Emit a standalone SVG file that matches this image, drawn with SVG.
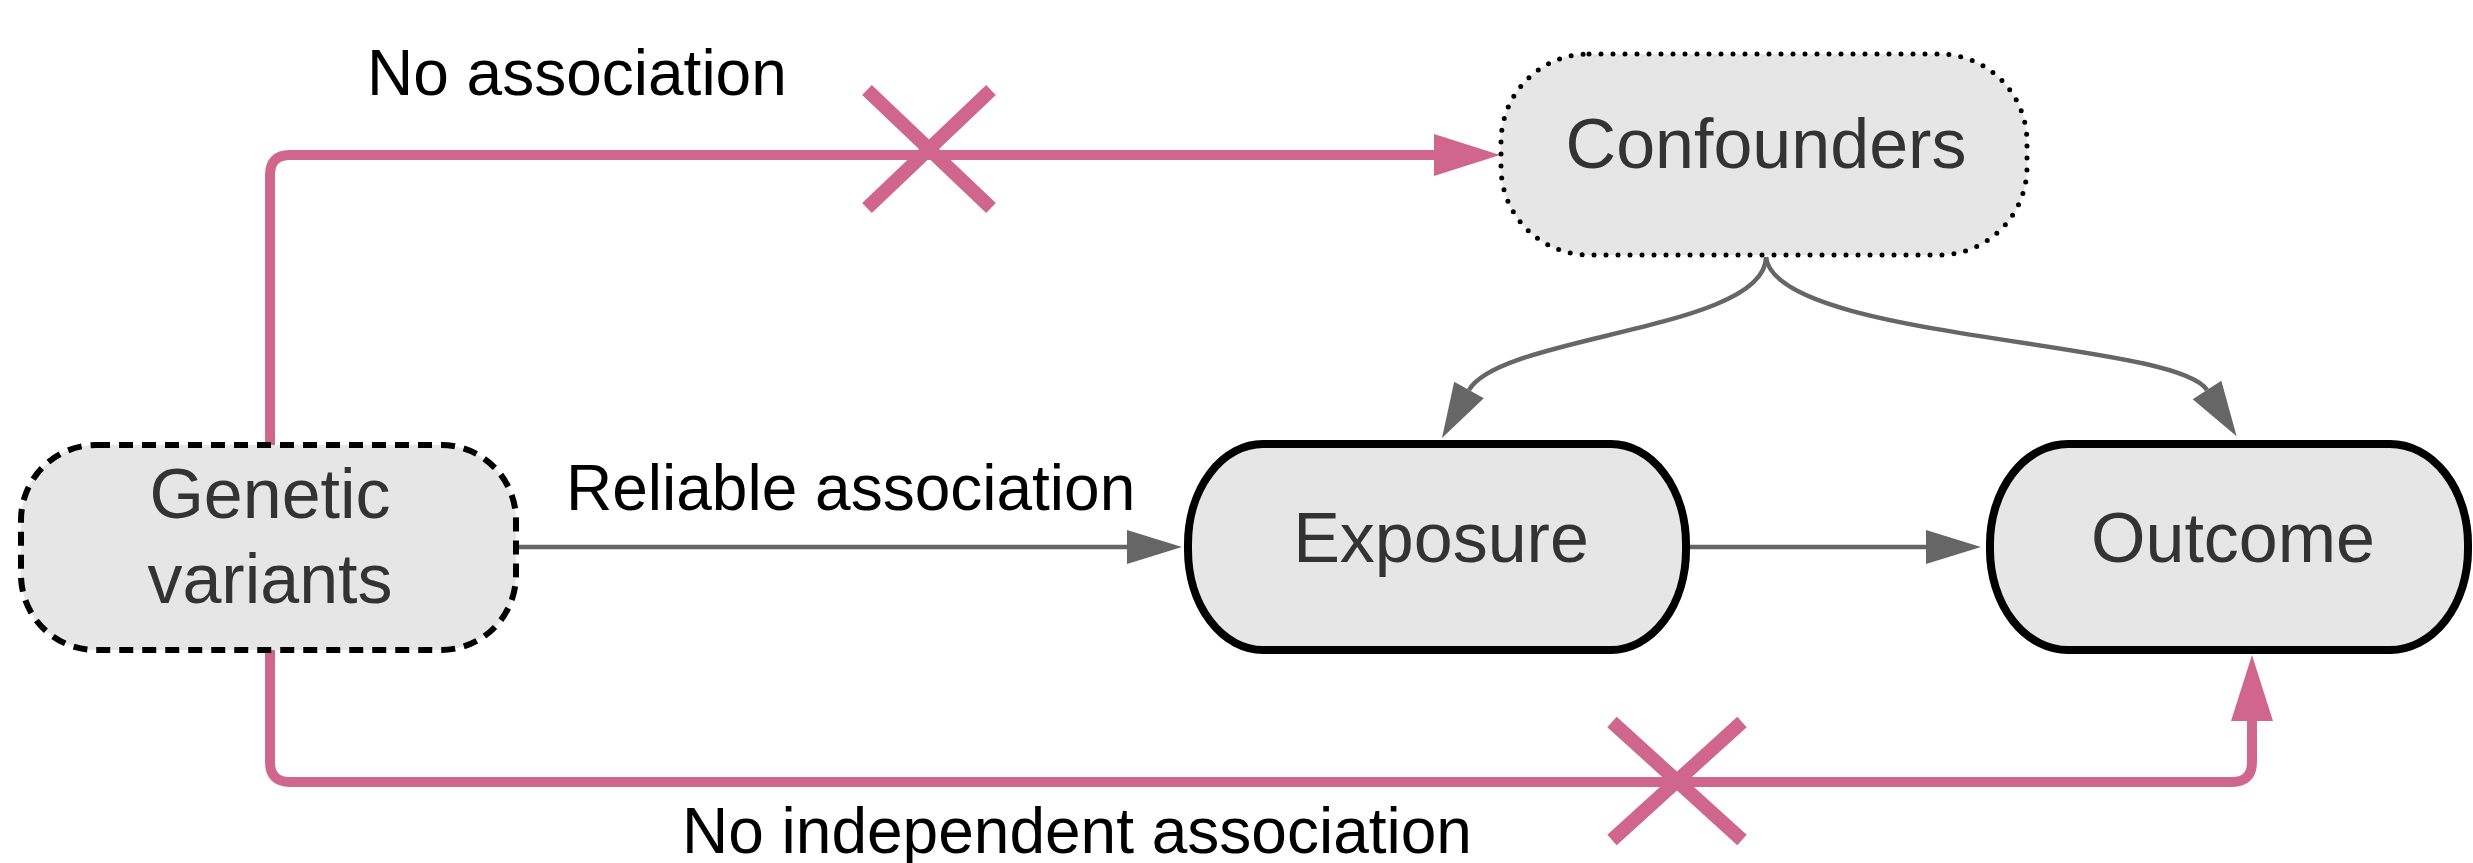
<svg xmlns="http://www.w3.org/2000/svg" width="2473" height="863" viewBox="0 0 2473 863">
<style>
.node{fill:#e6e6e6;}
.solid{stroke:#000;stroke-width:8;}
.dashed{stroke:#000;stroke-width:6;stroke-dasharray:14 9;}
.dotted{stroke:#000;stroke-width:5;stroke-dasharray:0 12;stroke-linecap:round;}
.nlabel{font-family:"Liberation Sans",Arial,sans-serif;font-size:70px;fill:#333;text-anchor:middle;}
.elabel{font-family:"Liberation Sans",Arial,sans-serif;font-size:64px;fill:#000;}
.grey{fill:none;stroke:#666;stroke-width:4.5;}
.pink{fill:none;stroke:#d0668b;stroke-width:10;}
.cross{fill:none;stroke:#d0668b;stroke-width:14;}
</style>
<defs>
<marker id="ag" markerUnits="userSpaceOnUse" markerWidth="56" markerHeight="36" refX="0" refY="17" orient="auto" overflow="visible"><path d="M0,0 L55,17 L0,34 z" fill="#666"/></marker>
<marker id="ap" markerUnits="userSpaceOnUse" markerWidth="68" markerHeight="42" refX="0" refY="21" orient="auto" overflow="visible"><path d="M0,0 L66,21 L0,42 z" fill="#d0668b"/></marker>
</defs>
<rect width="2473" height="863" fill="#fff"/>
<g id="connectors">
<path class="pink" d="M270,445 V175 Q270,155 290,155 H1434" marker-end="url(#ap)"/>
<path class="pink" d="M270,650 V762 Q270,782 290,782 H2232 Q2252,782 2252,762 V721" marker-end="url(#ap)"/>
<path class="cross" d="M867,90 L991,208 M991,90 L867,208"/>
<path class="cross" d="M1612,722 L1742,840 M1742,722 L1612,840"/>
<path class="grey" d="M516,547 H1127" marker-end="url(#ag)"/>
<path class="grey" d="M1690,547 H1926" marker-end="url(#ag)"/>
<path class="grey" d="M1766,257 C1766,330 1500,335 1469,390" marker-end="url(#ag)"/>
<path class="grey" d="M1766,257 C1775,340 2175,340 2207,390" marker-end="url(#ag)"/>
<text class="elabel" x="367" y="95">No association</text>
<text class="elabel" x="566" y="510">Reliable association</text>
<text class="elabel" x="682" y="853">No independent association</text>
</g>
<g id="confounders">
<rect class="node dotted" x="1501" y="54" width="526" height="201" rx="88" ry="88"/>
<text class="nlabel" x="1766" y="168">Confounders</text>
</g>
<g id="genetic-variants">
<rect class="node dashed" x="21" y="445" width="495" height="205" rx="75" ry="75"/>
<text class="nlabel" x="270" y="518">Genetic</text>
<text class="nlabel" x="270" y="603">variants</text>
</g>
<g id="exposure">
<rect class="node solid" x="1188" y="444" width="498" height="206" rx="75" ry="100"/>
<text class="nlabel" x="1441" y="562">Exposure</text>
</g>
<g id="outcome">
<rect class="node solid" x="1990" y="444" width="478" height="206" rx="78" ry="100"/>
<text class="nlabel" x="2233" y="562">Outcome</text>
</g>
</svg>
